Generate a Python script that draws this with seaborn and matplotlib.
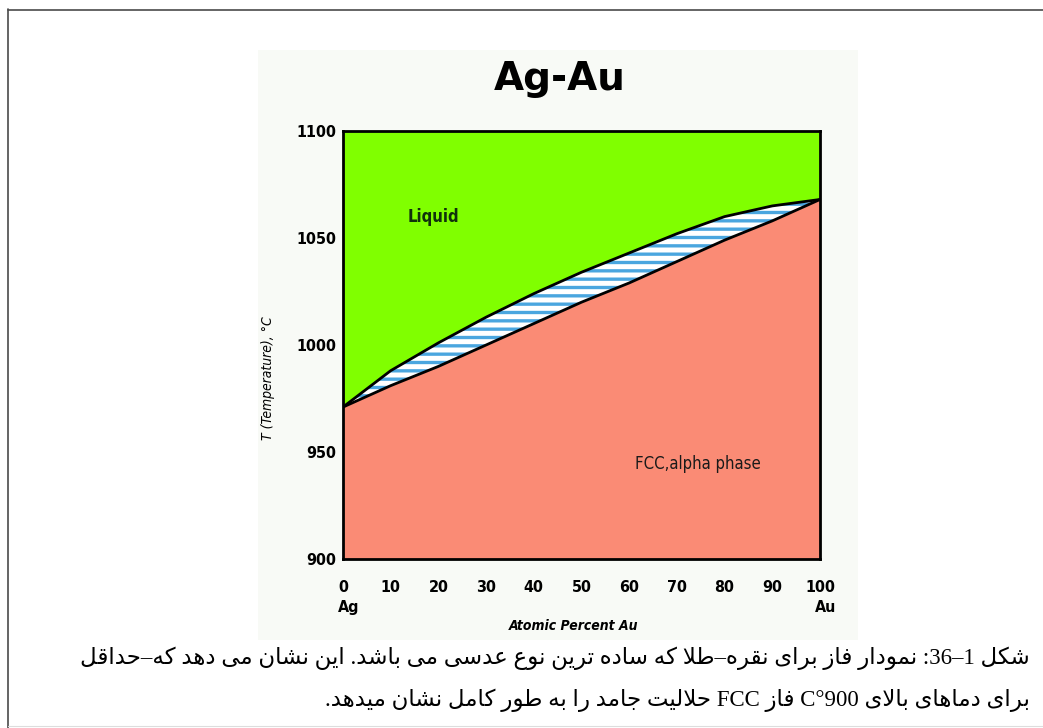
import re
import numpy as np
import pandas as pd
import matplotlib
matplotlib.use("Agg")
import matplotlib.pyplot as plt
from matplotlib.patches import Rectangle
from matplotlib.lines import Line2D
from matplotlib import font_manager as fm
import seaborn as sns

# ---------------- data ----------------
composition = [0, 10, 20, 30, 40, 50, 60, 70, 80, 90, 100]          # atomic % Au
liquidus = [971, 988, 1001, 1013, 1024, 1034, 1043, 1052, 1060, 1065, 1068]
solidus = [971, 981, 990, 1000, 1010, 1020, 1029, 1039, 1049, 1058, 1068]
x_ticks = [0, 10, 20, 30, 40, 50, 60, 70, 80, 90, 100]
y_ticks = [900, 950, 1000, 1050, 1100]
title = "Ag-Au"
x_label = "Atomic Percent Au"
y_label = "T (Temperature), \u00b0C"
end_labels = ["Ag", "Au"]
phase_labels = ["Liquid", "FCC,alpha phase"]
caption_lines = [
    "شکل 1–36: نمودار فاز برای نقره–طلا که ساده ترین نوع عدسی می باشد. این نشان می دهد که–حداقل",
    "برای دماهای بالای 900°C فاز FCC حلالیت جامد را به طور کامل نشان میدهد.",
]

# ---------------- minimal Persian shaping ----------------
FORMS = {
    'ا': ('\uFE8D', '\uFE8E', None, None),
    'ب': ('\uFE8F', '\uFE90', '\uFE91', '\uFE92'),
    'ت': ('\uFE95', '\uFE96', '\uFE97', '\uFE98'),
    'ج': ('\uFE9D', '\uFE9E', '\uFE9F', '\uFEA0'),
    'ح': ('\uFEA1', '\uFEA2', '\uFEA3', '\uFEA4'),
    'د': ('\uFEA9', '\uFEAA', None, None),
    'ر': ('\uFEAD', '\uFEAE', None, None),
    'ز': ('\uFEAF', '\uFEB0', None, None),
    'س': ('\uFEB1', '\uFEB2', '\uFEB3', '\uFEB4'),
    'ش': ('\uFEB5', '\uFEB6', '\uFEB7', '\uFEB8'),
    'ط': ('\uFEC1', '\uFEC2', '\uFEC3', '\uFEC4'),
    'ع': ('\uFEC9', '\uFECA', '\uFECB', '\uFECC'),
    'ف': ('\uFED1', '\uFED2', '\uFED3', '\uFED4'),
    'ق': ('\uFED5', '\uFED6', '\uFED7', '\uFED8'),
    'ک': ('\uFED9', '\uFEDA', '\uFEDB', '\uFEDC'),
    'ل': ('\uFEDD', '\uFEDE', '\uFEDF', '\uFEE0'),
    'م': ('\uFEE1', '\uFEE2', '\uFEE3', '\uFEE4'),
    'ن': ('\uFEE5', '\uFEE6', '\uFEE7', '\uFEE8'),
    'ه': ('\uFEE9', '\uFEEA', '\uFEEB', '\uFEEC'),
    'و': ('\uFEED', '\uFEEE', None, None),
    'ی': ('\uFEEF', '\uFEF0', '\uFEF3', '\uFEF4'),
}


def shape(s):
    out = []
    i, n = 0, len(s)
    while i < n:
        c = s[i]
        if c in FORMS:
            prev = s[i - 1] if i > 0 else ''
            jp = prev in FORMS and FORMS[prev][2] is not None
            if c == 'ل' and i + 1 < n and s[i + 1] == 'ا':
                out.append('\uFEFC' if jp else '\uFEFB')
                i += 2
                continue
            nxt = s[i + 1] if i + 1 < n else ''
            jn = FORMS[c][2] is not None and nxt in FORMS
            f = FORMS[c]
            out.append(f[3] if (jp and jn) else f[1] if jp else f[2] if jn else f[0])
        else:
            out.append(c)
        i += 1
    return ''.join(out)


def visual(s):
    segs = re.findall(r'[A-Za-z]+|[0-9]+|.', shape(s))
    return ''.join(reversed(segs))


# ---------------- figure ----------------
W, H = 1043, 728
sns.set_theme(style="white")
plt.rcParams['hatch.linewidth'] = 2.4
fig = plt.figure(figsize=(W / 100, H / 100), dpi=100, facecolor='white')


def cond_props(weight='bold', style='normal', size=12):
    fp = fm.FontProperties(family='DejaVu Sans', stretch='condensed', weight=weight, style=style, size=size)
    path = fm.findfont(fp, fallback_to_default=False)
    if 'condensed' in path.lower():
        return fp
    return fm.FontProperties(family='Liberation Sans', weight=weight, style=style, size=size)


def fx(px):
    return px / W


def fy(py):
    return 1 - py / H


# outer frame
fig.add_artist(Line2D([fx(8), fx(8)], [fy(9), fy(728)], color='#4a4a4a', lw=1.2))
fig.add_artist(Line2D([fx(8), fx(1043)], [fy(9.5), fy(9.5)], color='#4a4a4a', lw=1.2))
fig.add_artist(Line2D([fx(8), fx(1043)], [fy(726), fy(726)], color='#dddddd', lw=0.8))

# light panel of the embedded picture
fig.add_artist(Rectangle((fx(258), fy(640)), fx(858) - fx(258), fy(50) - fy(640),
                         facecolor='#f8faf6', edgecolor='none', zorder=0))

ax = fig.add_axes([fx(343), fy(559), fx(820) - fx(343), fy(131) - fy(559)])
ax.set_facecolor('white')

comp = np.array(composition, dtype=float)
liq = np.array(liquidus, dtype=float)
sol = np.array(solidus, dtype=float)

ax.fill_between(comp, liq, y_ticks[-1], color='#80ff00', lw=0, zorder=1)
ax.fill_between(comp, y_ticks[0], sol, color='#fa8b75', lw=0, zorder=1)
ax.fill_between(comp, sol, liq, facecolor='white', edgecolor='#4aa6df', hatch='--', lw=0, zorder=1)

df = pd.DataFrame({'comp': composition, 'liquidus': liquidus, 'solidus': solidus})
sns.lineplot(data=df, x='comp', y='liquidus', color='black', lw=2.0, ax=ax, zorder=3)
sns.lineplot(data=df, x='comp', y='solidus', color='black', lw=2.0, ax=ax, zorder=3)

ax.set_xlim(x_ticks[0], x_ticks[-1])
ax.set_ylim(y_ticks[0], y_ticks[-1])
ax.set_xticks(x_ticks)
ax.set_yticks(y_ticks)
ax.tick_params(axis='x', length=0, pad=15)
ax.tick_params(axis='y', length=0, pad=5)
tick_fp = cond_props('bold', size=11.5)
for lab in ax.get_xticklabels() + ax.get_yticklabels():
    lab.set_fontproperties(tick_fp)
    lab.set_color('black')
for sp in ax.spines.values():
    sp.set_visible(True)
    sp.set_color('black')
    sp.set_linewidth(2.0)
    sp.set_zorder(5)
ax.set_xlabel('')
ax.set_ylabel('')

# Ag / Au under the axis ends
for xv, t in zip([x_ticks[0], x_ticks[-1]], end_labels):
    ax.text(xv + 1.2, -0.113, t, transform=ax.get_xaxis_transform(), ha='center', va='center',
            fontproperties=cond_props('bold', size=11.5), color='black')

fig.text(fx(574), fy(626), x_label, ha='center', va='center',
         fontproperties=cond_props('bold', 'italic', 10), color='black')
fig.text(fx(268), fy(378), y_label, ha='center', va='center', rotation=90,
         fontproperties=cond_props('normal', 'italic', 10), color='black')

ax.text(0.19, 0.80, phase_labels[0], transform=ax.transAxes, ha='center', va='center',
        fontproperties=cond_props('bold', size=12), color='#10300c')
ax.text(0.745, 0.222, phase_labels[1], transform=ax.transAxes, ha='center', va='center',
        fontproperties=cond_props('normal', size=12), color='#1a1a1a')

fig.text(fx(560), fy(90), title, ha='center', va='baseline', fontfamily=['DejaVu Sans'],
         fontweight='bold', fontsize=28, color='black')

# caption (right to left)
cap_font = ['Liberation Serif', 'DejaVu Sans']
t1 = fig.text(fx(1030), fy(658), visual(caption_lines[0]), ha='right', va='center',
              fontfamily=cap_font, fontsize=15, color='black')
t2 = fig.text(fx(1030), fy(700), visual(caption_lines[1]), ha='right', va='center',
              fontfamily=cap_font, fontsize=15, color='black')
fig.canvas.draw()
r = fig.canvas.get_renderer()
w1 = t1.get_window_extent(r).width
scale = (1030 - 78) / w1
for t in (t1, t2):
    t.set_fontsize(15 * scale)

fig.savefig('out.png', dpi=100, facecolor='white')
